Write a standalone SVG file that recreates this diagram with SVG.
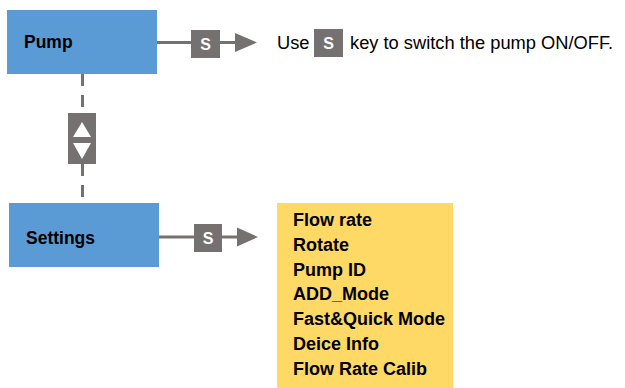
<svg xmlns="http://www.w3.org/2000/svg" width="625" height="388" viewBox="0 0 625 388">
<style>
.node{fill:#5B9BD5}
.lbl{font-family:"Liberation Sans",Arial,sans-serif;font-weight:bold;font-size:17.5px;fill:#000}
.item{font-family:"Liberation Sans",Arial,sans-serif;font-weight:bold;font-size:18px;fill:#000}
.txt{font-family:"Liberation Sans",Arial,sans-serif;font-size:18.3px;fill:#000}
.key{fill:#767171}
.keyt{font-family:"Liberation Sans",Arial,sans-serif;font-weight:bold;font-size:16px;fill:#fff;text-anchor:middle}
.ln{stroke:#767171;stroke-width:3;fill:none}
.dash{stroke:#767171;stroke-width:3;fill:none;stroke-dasharray:12 9}
.head{fill:#767171}
</style>
<rect width="625" height="388" fill="#fff"/>
<g id="connectors">
  <line class="ln" x1="157" y1="42.5" x2="237" y2="42.5"/>
  <polygon class="head" points="235,33 257,42.5 235,52"/>
  <rect class="key" x="191" y="30" width="29" height="28"/>
  <text class="keyt" x="205.5" y="50">S</text>
  <line class="ln" x1="159" y1="237" x2="239" y2="237"/>
  <polygon class="head" points="237,227.5 258,237 237,246.5"/>
  <rect class="key" x="194" y="224" width="28" height="28"/>
  <text class="keyt" x="208" y="243.5">S</text>
  <line class="dash" x1="82.5" y1="74" x2="82.5" y2="113"/>
  <line class="dash" x1="82.5" y1="164" x2="82.5" y2="203"/>
  <rect class="key" x="68" y="113" width="28" height="51"/>
  <polygon fill="#fff" points="82,122 91,137 73,137"/>
  <polygon fill="#fff" points="73,143 91,143 82,159"/>
</g>
<g id="pump">
  <rect class="node" x="7" y="10" width="150" height="64"/>
  <text class="lbl" x="24" y="48">Pump</text>
</g>
<g id="settings">
  <rect class="node" x="9" y="203" width="150" height="64"/>
  <text class="lbl" x="26" y="244">Settings</text>
</g>
<g id="note">
  <text class="txt" x="277" y="48.5">Use</text>
  <rect class="key" x="314" y="29" width="29" height="28"/>
  <text class="keyt" x="328.5" y="49">S</text>
  <text class="txt" x="350" y="48.5">key to switch the pump ON/OFF.</text>
</g>
<g id="menu">
  <rect x="277" y="203" width="176" height="185" fill="#FFD966"/>
  <text class="item" x="293" y="226">Flow rate</text>
  <text class="item" x="293" y="250.8">Rotate</text>
  <text class="item" x="293" y="275.6">Pump ID</text>
  <text class="item" x="293" y="300.4">ADD_Mode</text>
  <text class="item" x="293" y="325.2">Fast&amp;Quick Mode</text>
  <text class="item" x="293" y="350">Deice Info</text>
  <text class="item" x="293" y="374.8">Flow Rate Calib</text>
</g>
</svg>
